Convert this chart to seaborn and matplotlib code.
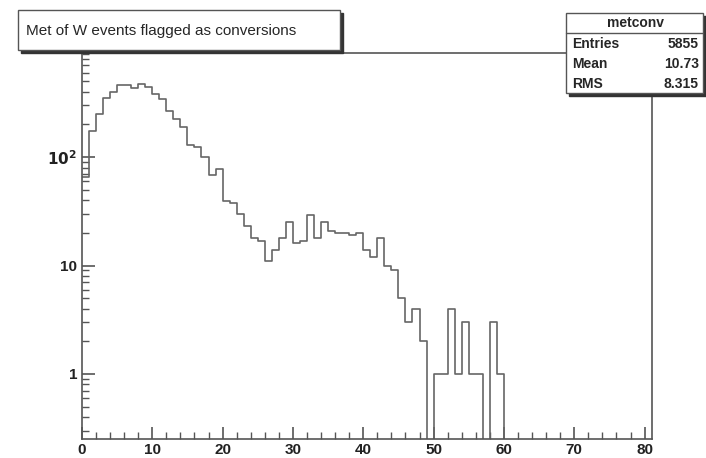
import numpy as np
import seaborn as sns
import matplotlib.pyplot as plt
from matplotlib.patches import Rectangle
from matplotlib.ticker import LogLocator, NullFormatter

sns.set_style('white')
plt.rcParams['font.family'] = ['Liberation Sans', 'DejaVu Sans']

# counts per 1-unit bin, 0..80
counts = [65, 174, 250, 350, 395, 460, 460, 430, 470, 440,
          380, 340, 265, 225, 190, 130, 125, 100, 68, 78,
          39, 38, 30, 23, 18, 17, 11, 14, 18, 25,
          16, 17, 29, 18, 25, 21, 20, 20, 19, 20,
          14, 12, 18, 10, 9, 5, 3, 4, 2, 0,
          1, 1, 4, 1, 3, 1, 1, 0, 3, 1]
counts = counts + [0] * (80 - len(counts))
centers = np.arange(80) + 0.5

fig = plt.figure(figsize=(7.06, 4.58), dpi=100)
ax = fig.add_axes([0.116, 0.041, 0.807, 0.843])
sns.histplot(x=centers, weights=counts, bins=80, binrange=(0, 80),
             element='step', fill=False, color='#666666', linewidth=1.2, ax=ax)
ax.set_yscale('log')
ax.set_xlim(0, 81)
ax.set_ylim(0.25, 910)
ax.set_xlabel('')
ax.set_ylabel('')
ax.set_xticks(range(0, 81, 10))
ax.set_xticks(range(0, 81, 2), minor=True)
ax.set_yticks([1, 10, 100])
ax.yaxis.set_minor_locator(LogLocator(base=10, subs=np.arange(2, 10)))
ax.yaxis.set_minor_formatter(NullFormatter())
ax.set_yticklabels(['1', '10', r'$\mathbf{10^{2}}$'])
ax.tick_params(axis='both', which='both', bottom=True, left=True, direction='in', colors='#555555')
ax.tick_params(axis='both', which='major', length=9, labelsize=11, labelcolor='#222222', width=1.2)
ax.tick_params(axis='both', which='minor', length=5, width=1)
ax.tick_params(axis='x', pad=3)
for lab in ax.get_xticklabels() + ax.get_yticklabels():
    lab.set_fontweight('bold')
for s in ax.spines.values():
    s.set_color('#555555')
    s.set_linewidth(1.2)

# title box
W, H = 706, 458
def box(x0, y0, x1, y1):
    fig.patches.append(Rectangle(((x0 + 3) / W, 1 - (y1 + 3) / H), (x1 - x0) / W, (y1 - y0) / H,
                                 transform=fig.transFigure, color='#333333', zorder=5))
    fig.patches.append(Rectangle((x0 / W, 1 - y1 / H), (x1 - x0) / W, (y1 - y0) / H,
                                 transform=fig.transFigure, facecolor='white', edgecolor='#555555',
                                 lw=1, zorder=6))

box(18, 10, 340, 50)
fig.text(26 / W, 1 - 31 / H, 'Met of W events flagged as conversions', fontsize=11,
         va='center', ha='left', zorder=7)
box(566, 13, 703, 93)
fig.text(635 / W, 1 - 23 / H, 'metconv', fontsize=10, fontweight='bold', ha='center', va='center', zorder=7)
fig.lines.append(plt.Line2D([566 / W, 703 / W], [1 - 33 / H] * 2, transform=fig.transFigure,
                            color='#555555', lw=1, zorder=7))
for i, (k, v) in enumerate([('Entries', '5855'), ('Mean', '10.73'), ('RMS', '8.315')]):
    y = 1 - (44 + i * 20) / H
    fig.text(572 / W, y, k, fontsize=10, fontweight='bold', va='center', zorder=7)
    fig.text(699 / W, y, v, fontsize=10, fontweight='bold', va='center', ha='right', zorder=7)

fig.savefig('out.png', dpi=100)
